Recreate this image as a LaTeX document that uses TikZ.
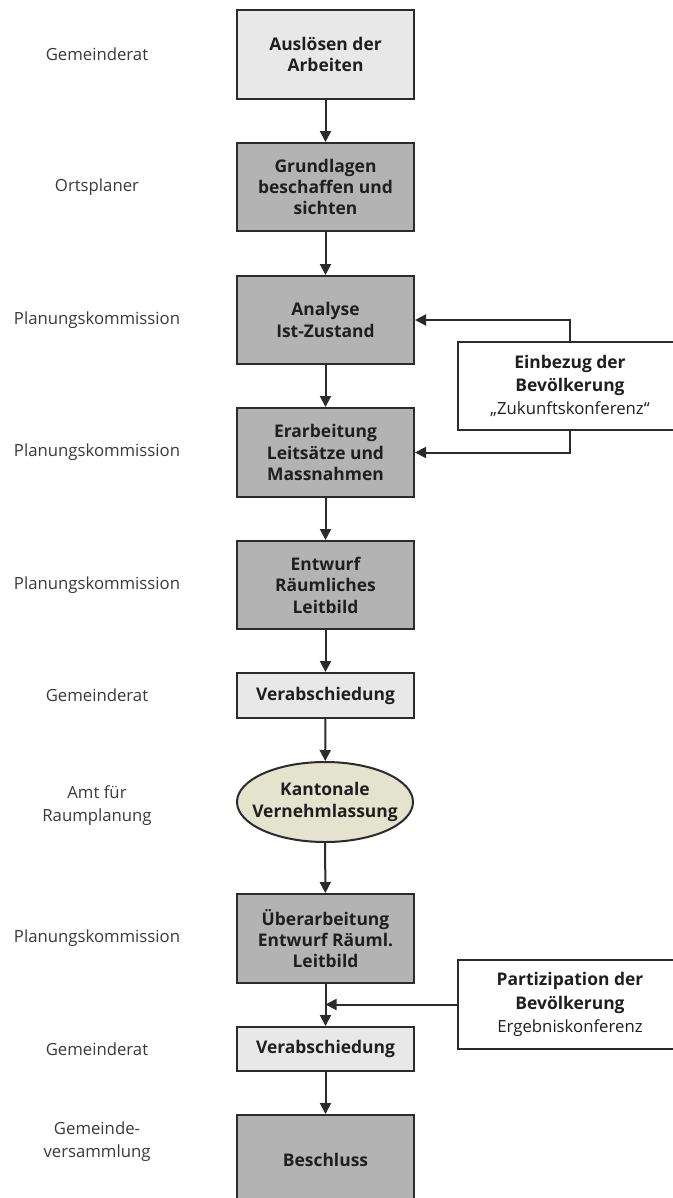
\documentclass[tikz,border=0pt]{standalone}
\usepackage{fontspec}
\setmainfont{Open Sans}
\usetikzlibrary{arrows.meta,shapes.geometric,calc}
\definecolor{lightfill}{HTML}{E8E8E8}
\definecolor{darkfill}{HTML}{B3B3B3}
\definecolor{ellfill}{HTML}{E3E3CE}
\definecolor{edge}{HTML}{2B2B2B}
\definecolor{labeltext}{HTML}{3A3A3A}
\tikzset{
  boxbase/.style={draw=edge, line width=2bp, minimum width=177bp, align=center,
    font=\fontsize{17.5}{21.5}\selectfont\bfseries, text=black!88, inner sep=2bp},
  lightbox/.style={boxbase, fill=lightfill},
  darkbox/.style={boxbase, fill=darkfill},
  ellbox/.style={boxbase, ellipse, fill=ellfill, minimum width=176bp, minimum height=80bp,
    inner xsep=-30bp, inner ysep=-10bp},
  sidebox/.style={draw=edge, line width=2bp, fill=white, minimum width=224bp, minimum height=88bp,
    align=center, font=\fontsize{16.8}{23.5}\selectfont, text=black!88},
  rolelabel/.style={align=center, font=\fontsize{16.8}{23}\selectfont, text=labeltext},
  arr/.style={draw=edge, line width=2bp, -{Triangle[length=11bp,width=11bp]}}
}
\newcommand{\sbold}[1]{{\bfseries\fontsize{17.5}{23.5}\selectfont #1}}
\begin{document}
\begin{tikzpicture}[x=1bp,y=-1bp]
\clip (0,0) rectangle (673,1198);
\fill[white] (0,0) rectangle (673,1198);
% main column
\node[lightbox, minimum height=89bp] (b1) at (325.5,54.5) {Auslösen der\\Arbeiten};
\node[darkbox, minimum height=88bp] (b2) at (325.5,187) {Grundlagen\\beschaffen und\\sichten};
\node[darkbox, minimum height=88bp] (b3) at (325.5,320) {Analyse\\Ist-Zustand};
\node[darkbox, minimum height=89bp] (b4) at (325.5,452.5) {Erarbeitung\\Leitsätze und\\Massnahmen};
\node[darkbox, minimum height=88bp] (b5) at (325.5,585) {Entwurf\\Räumliches\\Leitbild};
\node[lightbox, minimum height=45bp] (v1) at (325.5,695.5) {Verabschiedung};
\node[ellbox] (e1) at (325,802) {Kantonale\\Vernehmlassung};
\node[darkbox, minimum height=89bp] (b6) at (325.5,938.5) {Überarbeitung\\Entwurf Räuml.\\Leitbild};
\node[lightbox, minimum height=44bp] (v2) at (325.5,1049) {Verabschiedung};
\node[darkbox, minimum height=89bp] (b7) at (325.5,1159.5) {Beschluss};
% side boxes
\node[sidebox] (s1) at (570,386) {\sbold{Einbezug der}\\\sbold{Bevölkerung}\\„Zukunftskonferenz“};
\node[sidebox, minimum height=89bp] (s2) at (570,1004.5) {\sbold{Partizipation der}\\\sbold{Bevölkerung}\\Ergebniskonferenz};
% role labels
\node[rolelabel] (r1) at (97,54.5) {Gemeinderat};
\node[rolelabel] (r2) at (97,187) {Ortsplaner};
\node[rolelabel] (r3) at (97,320) {Planungskommission};
\node[rolelabel] (r4) at (97,452.5) {Planungskommission};
\node[rolelabel] (r5) at (97,585) {Planungskommission};
\node[rolelabel] (r6) at (97,695.5) {Gemeinderat};
\node[rolelabel] (r7) at (97,806) {Amt für\\Raumplanung};
\node[rolelabel] (r8) at (97,938.5) {Planungskommission};
\node[rolelabel] (r9) at (97,1049) {Gemeinderat};
\node[rolelabel] (r10) at (97,1142) {Gemeinde-\\versammlung};
% connectors
\draw[arr] (b1) -- (b2);
\draw[arr] (b2) -- (b3);
\draw[arr] (b3) -- (b4);
\draw[arr] (b4) -- (b5);
\draw[arr] (b5) -- (v1);
\draw[arr] (v1) -- (e1);
\draw[arr] (e1) -- (b6);
\draw[arr] (b6) -- (v2);
\draw[arr] (v2) -- (b7);
\draw[arr] (s1.north) |- (b3.east);
\draw[arr] (s1.south) |- (b4.east);
\draw[arr] (s2.west) -- (b6.south |- s2.west);
\end{tikzpicture}
\end{document}
